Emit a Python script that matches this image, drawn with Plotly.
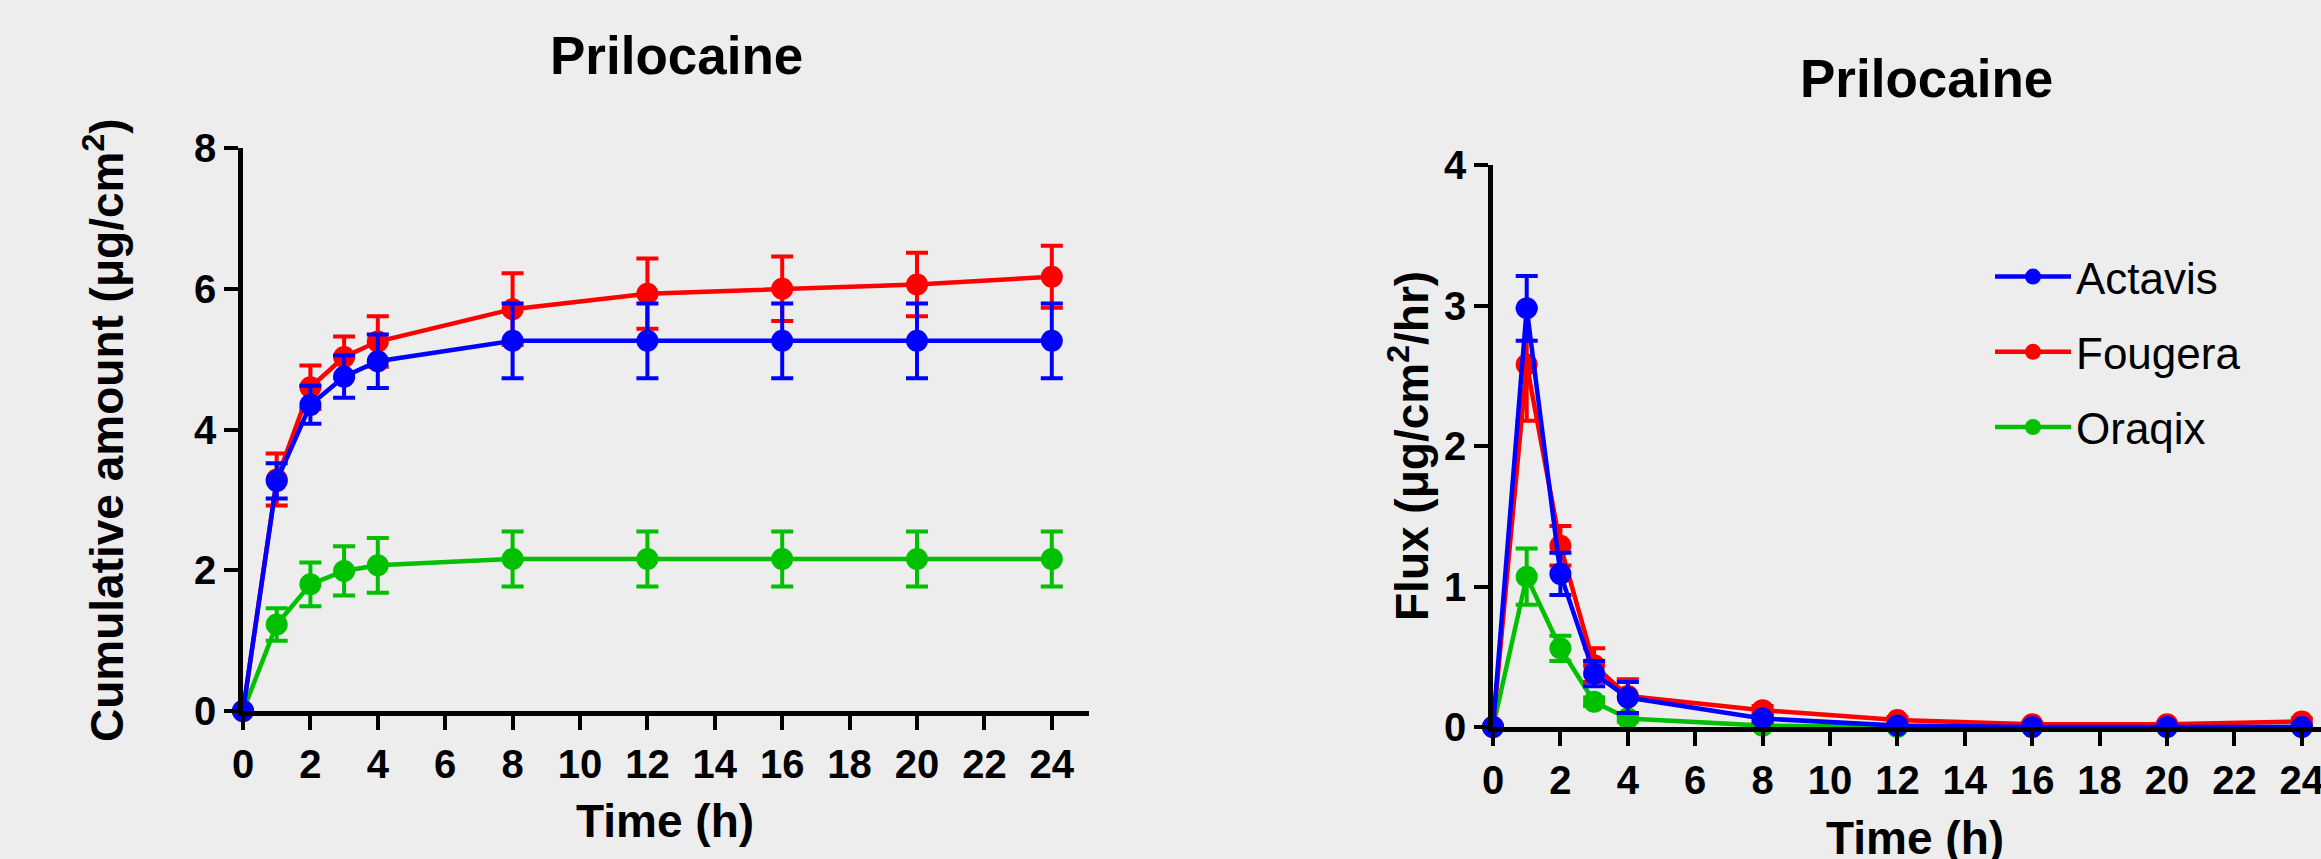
import plotly.graph_objects as go

W, H = 2321, 859
BG = "#ededed"
FONT = "Liberation Sans, Arial, sans-serif"

time_h = [0, 1, 2, 3, 4, 8, 12, 16, 20, 24]
x_ticks = list(range(0, 25, 2))

names = ["Actavis", "Fougera", "Oraqix"]
colors = ["#0000ff", "#ff0000", "#00c000"]

# Cumulative amount (ug/cm2)
cum_actavis = [0, 3.27, 4.35, 4.75, 4.97, 5.26, 5.26, 5.26, 5.26, 5.26]
cum_actavis_err = [0, 0.25, 0.27, 0.30, 0.38, 0.53, 0.53, 0.53, 0.53, 0.53]
cum_fougera = [0, 3.29, 4.60, 5.03, 5.25, 5.71, 5.93, 6.00, 6.06, 6.17]
cum_fougera_err = [0, 0.37, 0.31, 0.29, 0.36, 0.51, 0.50, 0.46, 0.45, 0.44]
cum_oraqix = [0, 1.23, 1.80, 1.99, 2.07, 2.16, 2.16, 2.16, 2.16, 2.16]
cum_oraqix_err = [0, 0.23, 0.31, 0.35, 0.39, 0.39, 0.39, 0.39, 0.39, 0.39]

# Flux (ug/cm2/hr)
flux_actavis = [0, 2.98, 1.09, 0.38, 0.21, 0.06, 0.01, 0.0, 0.0, 0.0]
flux_actavis_err = [0, 0.23, 0.15, 0.09, 0.11, 0.02, 0, 0, 0, 0]
flux_fougera = [0, 2.58, 1.29, 0.44, 0.22, 0.12, 0.05, 0.02, 0.02, 0.04]
flux_fougera_err = [0, 0.40, 0.14, 0.12, 0.12, 0.03, 0.02, 0.01, 0.01, 0.02]
flux_oraqix = [0, 1.07, 0.56, 0.18, 0.06, 0.01, 0, 0, 0, 0]
flux_oraqix_err = [0, 0.20, 0.09, 0.03, 0.02, 0.01, 0, 0, 0, 0]

cum_series = [(cum_actavis, cum_actavis_err), (cum_fougera, cum_fougera_err), (cum_oraqix, cum_oraqix_err)]
flux_series = [(flux_actavis, flux_actavis_err), (flux_fougera, flux_fougera_err), (flux_oraqix, flux_oraqix_err)]

fig = go.Figure()

def px_x(p):
    return p / W

def px_y(p):
    return 1 - p / H

# draw order: Oraqix, Fougera, Actavis (Actavis on top)
for i in [2, 1, 0]:
    y, e = cum_series[i]
    fig.add_trace(go.Scatter(
        x=time_h, y=y, mode="lines+markers", name=names[i],
        line=dict(color=colors[i], width=4.5),
        marker=dict(color=colors[i], size=22),
        error_y=dict(type="data", array=e, visible=True, color=colors[i], thickness=4, width=11),
        xaxis="x", yaxis="y", showlegend=False, cliponaxis=False,
    ))
for i in [2, 1, 0]:
    y, e = flux_series[i]
    fig.add_trace(go.Scatter(
        x=time_h, y=y, mode="lines+markers", name=names[i],
        line=dict(color=colors[i], width=4.5),
        marker=dict(color=colors[i], size=22),
        error_y=dict(type="data", array=e, visible=True, color=colors[i], thickness=4, width=11),
        xaxis="x2", yaxis="y2", showlegend=True, legendrank=i + 1,
        legendgroup=names[i], cliponaxis=False,
    ))

tickfont = dict(family=FONT, size=40, color="black", weight="bold")
axis_common = dict(
    showline=True, linecolor="black", linewidth=4.5, ticks="outside", ticklen=14,
    tickwidth=4, tickcolor="black", showgrid=False, zeroline=False, tickfont=tickfont,
    ticklabeloverflow="allow", automargin=False,
)

# left panel: x=0 at 243px, 33.7 px per hour; y=0 at 711px, y=8 at 148px
fig.update_layout(
    xaxis=dict(domain=[px_x(243), px_x(1089)], range=[0, (1089 - 243) / 33.7],
               tickvals=x_ticks, anchor="y", **axis_common),
    yaxis=dict(domain=[px_y(711), px_y(148)], range=[0, 8], tickvals=[0, 2, 4, 6, 8],
               anchor="x", **axis_common),
    xaxis2=dict(domain=[px_x(1493), 1.0], range=[0, (W - 1493) / 33.7],
                tickvals=x_ticks, anchor="y2", **axis_common),
    yaxis2=dict(domain=[px_y(727), px_y(165)], range=[0, 4], tickvals=[0, 1, 2, 3, 4],
                anchor="x2", **axis_common),
)

def ann(text, x, y, size, bold=True, angle=0):
    fig.add_annotation(
        text=text, x=px_x(x), y=px_y(y), xref="paper", yref="paper",
        showarrow=False, xanchor="center", yanchor="middle", textangle=angle,
        font=dict(family=FONT, size=size, color="black", weight="bold" if bold else "normal"),
    )

ann("Prilocaine", 676, 56, 53)
ann("Prilocaine", 1926, 79, 53)
ann("Time (h)", 665, 821, 46)
ann("Time (h)", 1915, 838, 46)
ann("Cumulative amount (\u03bcg/cm<sup>2</sup>)", 104, 430, 46, angle=-90)
ann("Flux (\u03bcg/cm<sup>2</sup>/hr)", 1409, 446, 46, angle=-90)

fig.update_layout(
    width=W, height=H,
    margin=dict(l=0, r=0, t=0, b=0, pad=0, autoexpand=False),
    paper_bgcolor=BG, plot_bgcolor=BG,
    showlegend=True,
    legend=dict(
        x=px_x(1990), y=px_y(352), xanchor="left", yanchor="middle",
        bgcolor="rgba(0,0,0,0)", borderwidth=0,
        font=dict(family=FONT, size=44, color="black"),
        tracegroupgap=15, itemwidth=76,
        traceorder="grouped",
    ),
)

fig.write_html(
    "out.html",
    config={"displayModeBar": False},
    post_script="document.body.style.margin='0';document.body.style.overflow='hidden';",
)
